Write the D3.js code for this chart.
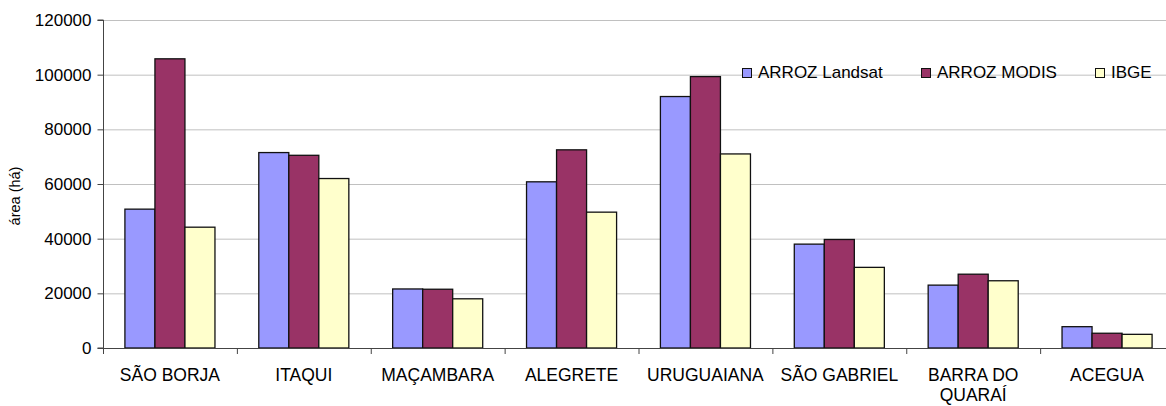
<!DOCTYPE html>
<html>
<head>
<meta charset="utf-8">
<script src="https://cdn.jsdelivr.net/npm/d3@7"></script>
<style>
  html, body { margin: 0; padding: 0; background: #fff; }
  svg { display: block; font-family: "Liberation Sans", Arial, sans-serif; }
</style>
</head>
<body>
<svg id="chart" width="1166" height="406"></svg>
<script>
const categories = ["SÃO BORJA", "ITAQUI", "MAÇAMBARA", "ALEGRETE", "URUGUAIANA", "SÃO GABRIEL", "BARRA DO|QUARAÍ", "ACEGUA"];
const seriesNames = ["ARROZ Landsat", "ARROZ MODIS", "IBGE"];
const landsat = [50800, 71500, 21600, 60800, 92000, 38000, 23000, 7800];
const modis   = [105800, 70500, 21500, 72500, 99300, 39700, 27000, 5400];
const ibge    = [44200, 62000, 18000, 49700, 71000, 29500, 24600, 5000];
const yTicks  = [0, 20000, 40000, 60000, 80000, 100000, 120000];
const colors  = ["#9999FF", "#993366", "#FFFFCC"];

const seriesValues = [landsat, modis, ibge];
const svg = d3.select("#chart");

const pLeft = 103, pRight = 1174, pTop = 20, pBottom = 348;

const y = d3.scaleLinear().domain([0, 120000]).range([pBottom, pTop]);
const xCat = d3.scaleBand().domain(categories).range([pLeft, pRight]).padding(0);
const xSer = d3.scaleBand().domain(seriesNames).range([0, xCat.bandwidth()]).paddingInner(0).paddingOuter(0.73);

// gridlines
svg.append("g").selectAll("line").data(yTicks.filter(d => d > 0)).join("line")
  .attr("x1", pLeft).attr("x2", 1166)
  .attr("y1", d => y(d) + 0.5).attr("y2", d => y(d) + 0.5)
  .attr("stroke", "#c0c0c0").attr("stroke-width", 1);

// bars
const rows = categories.map((c, i) => ({ c, vals: seriesNames.map((s, j) => ({ s, v: seriesValues[j][i], j })) }));
const g = svg.append("g").selectAll("g").data(rows).join("g")
  .attr("transform", d => `translate(${xCat(d.c)},0)`);
g.selectAll("rect").data(d => d.vals).join("rect")
  .attr("x", d => xSer(d.s))
  .attr("y", d => y(d.v))
  .attr("width", xSer.bandwidth())
  .attr("height", d => y(0) - y(d.v))
  .attr("fill", d => colors[d.j])
  .attr("stroke", "#111").attr("stroke-width", 1.3);

// y axis
const yAxis = d3.axisLeft(y).tickValues(yTicks).tickSize(6).tickPadding(6).tickFormat(d3.format("d"));
const ya = svg.append("g").attr("transform", `translate(${pLeft + 0.5},0)`).call(yAxis);
ya.select(".domain").attr("stroke", "#444").attr("d", `M-6,${pTop}H0V${pBottom}H-6`);
ya.selectAll(".tick line").attr("stroke", "#444");
ya.selectAll("text").attr("font-size", 17).attr("fill", "#000").attr("font-family", "Liberation Sans, Arial, sans-serif");

// x axis line
svg.append("line").attr("x1", pLeft).attr("x2", 1166).attr("y1", pBottom + 0.5).attr("y2", pBottom + 0.5)
  .attr("stroke", "#444").attr("stroke-width", 1);
// category boundary ticks
svg.append("g").selectAll("line").data(categories).join("line")
  .attr("x1", d => xCat(d) + 0.5).attr("x2", d => xCat(d) + 0.5)
  .attr("y1", pBottom).attr("y2", pBottom + 6)
  .attr("stroke", "#444");

// x labels
const xl = svg.append("g").selectAll("text").data(categories).join("text")
  .attr("x", d => xCat(d) + xCat.bandwidth() / 2)
  .attr("y", 381)
  .attr("text-anchor", "middle").attr("font-size", 17.5).attr("fill", "#000");
xl.each(function(d) {
  const parts = d.split("|");
  const t = d3.select(this);
  parts.forEach((p, i) => {
    t.append("tspan").attr("x", xCat(d) + xCat.bandwidth() / 2).attr("dy", i === 0 ? 0 : 20).text(p);
  });
});

// y label
svg.append("text").attr("transform", "translate(20,196) rotate(-90)")
  .attr("text-anchor", "middle").attr("font-size", 14.5).attr("fill", "#000").text("área (há)");

// legend
const legX = [742, 921, 1095];
const lg = svg.append("g").selectAll("g").data(seriesNames).join("g")
  .attr("transform", (d, i) => `translate(${legX[i]},68)`);
lg.append("rect").attr("x", 0.5).attr("y", 0.5).attr("width", 9).attr("height", 9)
  .attr("fill", (d, i) => colors[i]).attr("stroke", "#111").attr("stroke-width", 1);
lg.append("text").attr("x", 16).attr("y", 9.5).attr("font-size", 17).attr("fill", "#000").text(d => d);
</script>
</body>
</html>
